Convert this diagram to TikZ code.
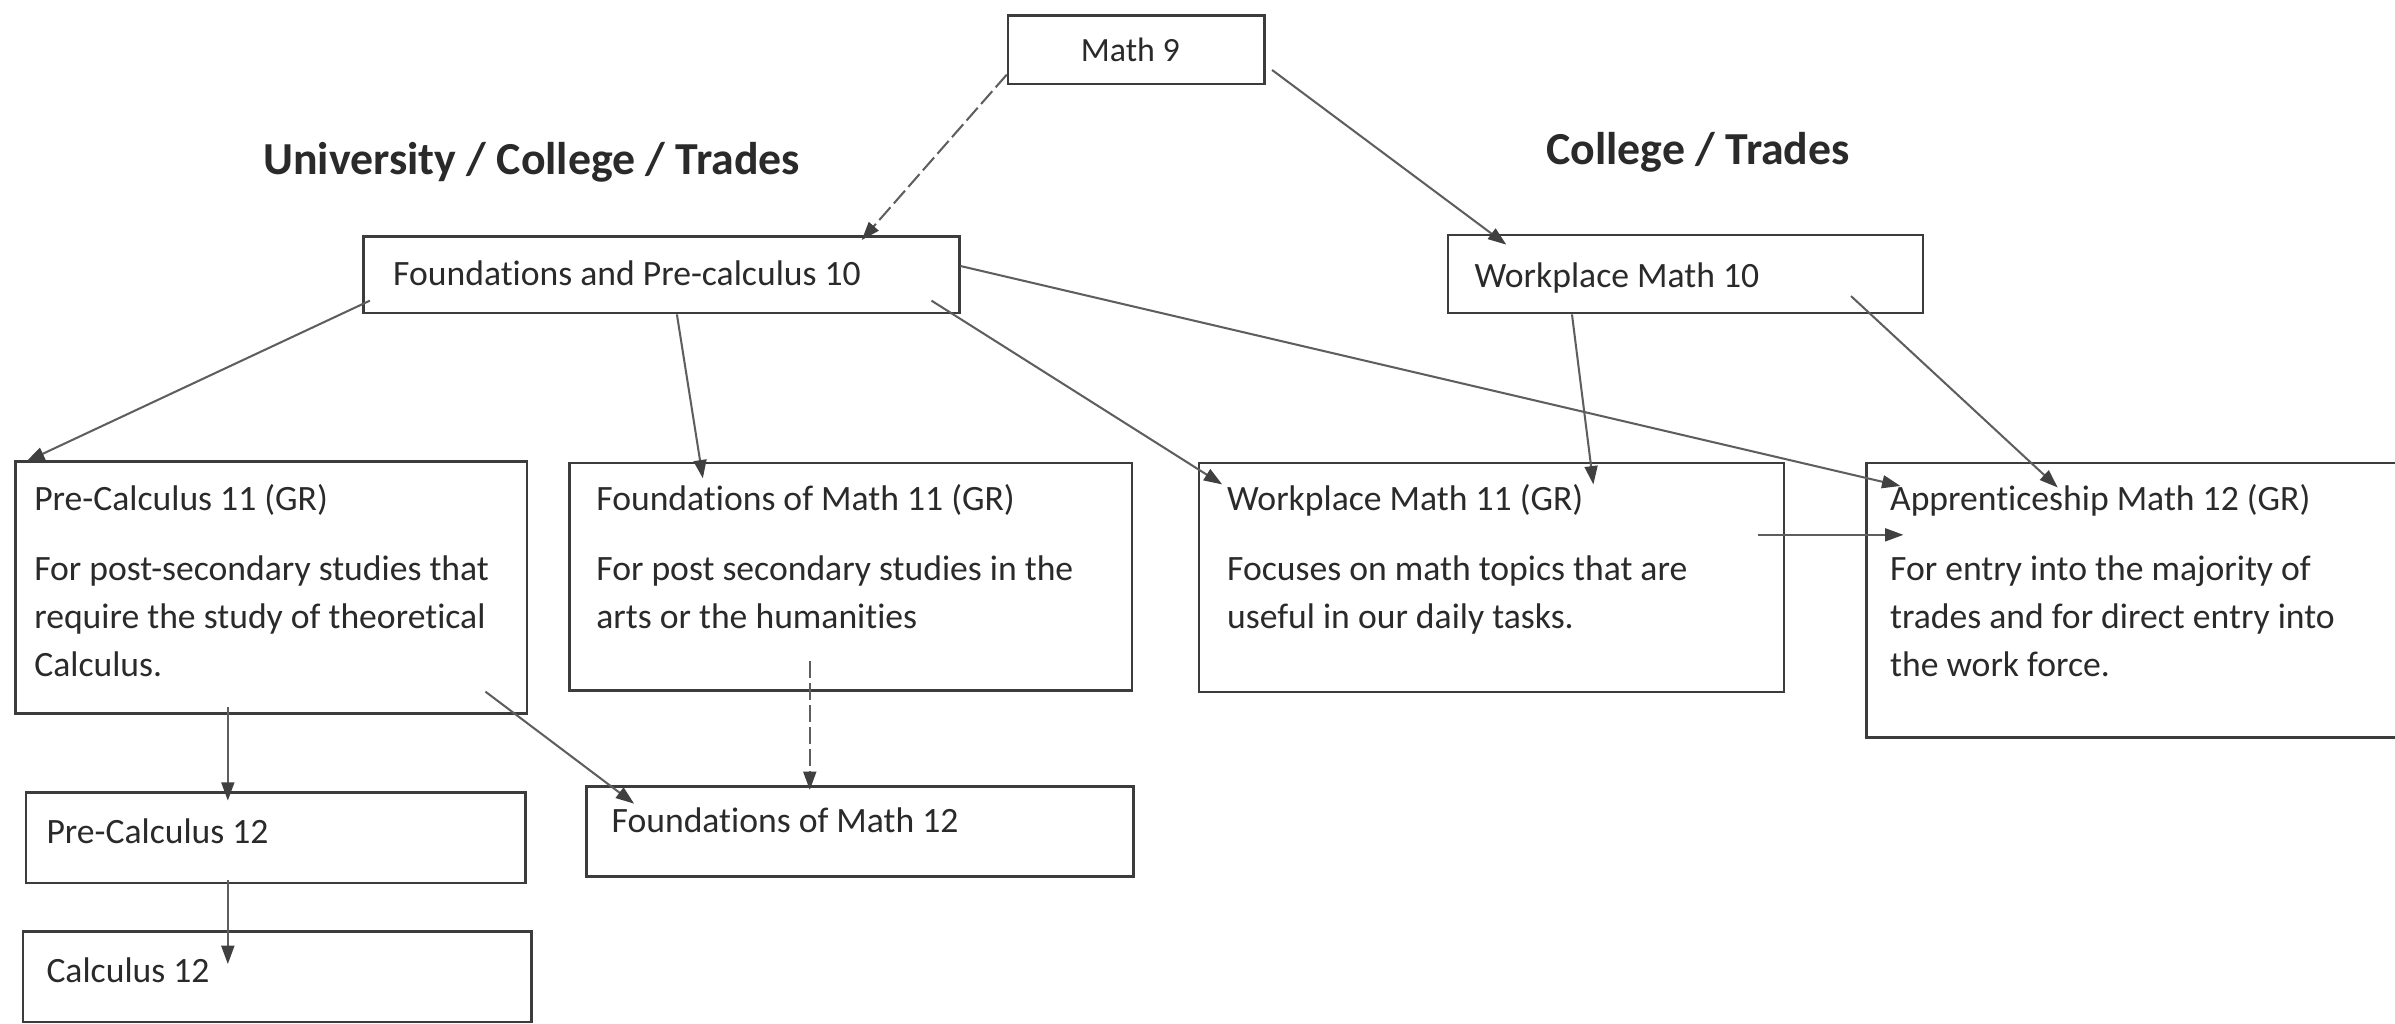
\documentclass[tikz,border=0pt]{standalone}
\usepackage{fontspec}
\setmainfont{Carlito}[Ligatures={NoCommon}]
\usetikzlibrary{arrows.meta,fit,calc}
\definecolor{ink}{HTML}{2A2A2A}
\definecolor{edge}{HTML}{3C3C3C}
\definecolor{wire}{HTML}{5E5E5E}
\definecolor{tip}{HTML}{404040}
\begin{document}
\begin{tikzpicture}[x=0.45pt,y=-0.45pt,
  box/.style={draw=edge,line width=0.75pt,inner sep=0pt},
  txt/.style={inner sep=0pt,anchor=base west,text=ink,align=left,
    font=\fontsize{10.5}{14.2}\selectfont},
  head/.style={inner sep=0pt,anchor=base west,text=ink,
    font=\bfseries\fontsize{13.5}{16}\selectfont},
  conn/.style={draw=wire,line width=0.6pt,-{Triangle[length=5.4pt,width=3.8pt,color=tip]}},
  dconn/.style={conn,dash pattern=on 5pt off 1.5pt}]
\useasboundingbox[fill=white] (0,0) rectangle (1568,670);

% boxes
\node[box,fit={(660,10)(828,55)}] (m9) {};
\node[box,fit={(238,155)(628,205)}] (fp10) {};
\node[box,fit={(948,154)(1259,205)}] (wm10) {};
\node[box,fit={(10,302)(345,467)}] (pc11) {};
\node[box,fit={(373,303)(741,452)}] (fm11) {};
\node[box,fit={(785,303)(1168,453)}] (wm11) {};
\node[box,fit={(1222,303)(1600,483)}] (am12) {};
\node[box,fit={(17,519)(344,578)}] (pc12) {};
\node[box,fit={(15,610)(348,669)}] (calc12) {};
\node[box,fit={(384,515)(742,574)}] (fm12) {};

% headings
\node[head] (hl) at (172,114) {University / College / Trades};
\node[head] (hr) at (1012,108) {College / Trades};

% texts (multi-line nodes: base anchor is the last line's baseline)
\node[txt,anchor=base,font=\fontsize{10}{12}\selectfont] (m9t) at (740,40) {Math 9};
\node[txt] (fp10t) at (257,187) {Foundations and Pre-calculus 10};
\node[txt] (wm10t) at (965,188) {Workplace Math 10};
\node[txt] (pc11t) at (22,334) {Pre-Calculus 11 (GR)};
\node[txt] (pc11b) at (22,443) {For post-secondary studies that\\require the study of theoretical\\Calculus.};
\node[txt] (fm11t) at (390,334) {Foundations of Math 11 (GR)};
\node[txt] (fm11b) at (390,411.5) {For post secondary studies in the\\arts or the humanities};
\node[txt] (wm11t) at (803,334) {Workplace Math 11 (GR)};
\node[txt] (wm11b) at (803,411.5) {Focuses on math topics that are\\useful in our daily tasks.};
\node[txt] (am12t) at (1237,334) {Apprenticeship Math 12 (GR)};
\node[txt] (am12b) at (1237,443) {For entry into the majority of\\trades and for direct entry into\\the work force.};
\node[txt] (pc12t) at (30,552) {Pre-Calculus 12};
\node[txt] (calc12t) at (30,643) {Calculus 12};
\node[txt] (fm12t) at (400,545) {Foundations of Math 12};

% connectors
\draw[dconn] ($(m9.south west)+(0,-7)$) -- ($(fp10.north west)+(327,3)$);
\draw[conn] ($(m9.south east)+(4,-10)$) -- ($(wm10.north west)+(39,7)$);
\draw[conn] ($(fp10.south west)+(5,-9)$) -- ($(pc11.north west)+(8,1)$);
\draw[conn] ($(fp10.south west)+(206,0)$) -- ($(fm11.north west)+(88,11)$);
\draw[conn] ($(fp10.south east)+(-19,-9)$) -- ($(wm11.north west)+(16,15)$);
\draw[conn] ($(fp10.north east)+(0,20)$) -- ($(am12.north west)+(23,16)$);
\draw[conn] ($(wm10.south west)+(82,0)$) -- ($(wm11.north west)+(259,15)$);
\draw[conn] ($(wm10.south east)+(-48,-12)$) -- ($(am12.north west)+(126,17)$);
\draw[conn] ($(wm11.north east)+(-18,48)$) -- ($(am12.north west)+(25,48)$);
\draw[conn] ($(pc11.south west)+(140,-5)$) -- ($(pc12.north west)+(133,6)$);
\draw[conn] ($(pc11.south east)+(-28,-15)$) -- ($(fm12.north west)+(32,12)$);
\draw[dconn] ($(fm11.south west)+(158,-20)$) -- ($(fm12.north west)+(147,3)$);
\draw[conn] ($(pc12.south west)+(133,-3)$) -- ($(calc12.north west)+(135,22)$);
\end{tikzpicture}
\end{document}
